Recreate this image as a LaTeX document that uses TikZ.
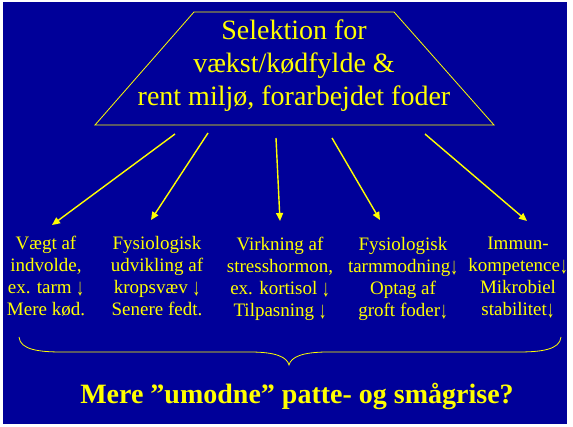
\documentclass[tikz,border=0pt]{standalone}
\usepackage{fontspec}
\setmainfont{Liberation Serif}
\usepackage{tikz}
\usetikzlibrary{arrows.meta}

\definecolor{slideblue}{RGB}{0,0,153}
\definecolor{slideyellow}{RGB}{255,255,0}

\newcommand{\dnarr}{\smash{\raisebox{-2pt}{\scalebox{0.8}[1.25]{↓}}}}

\tikzset{
  selbox/.style = {draw=slideyellow, line width=0.8pt},
  seltext/.style = {align=center, text=slideyellow, inner sep=0pt, font=\fontsize{28}{33}\selectfont},
  effect/.style = {align=center, text=slideyellow, inner sep=0pt, font=\fontsize{19}{22}\selectfont},
  spoke/.style = {draw=slideyellow, line width=1.4pt, -{Triangle[length=8pt,width=7pt]}},
  result/.style = {text=slideyellow, inner sep=0pt, font=\fontsize{28}{33}\selectfont\bfseries},
}

\begin{document}
\begin{tikzpicture}[x=1pt, y=-1pt]
    \useasboundingbox (0,0) rectangle (573,427);
    \fill[white] (0,0) rectangle (573,427);
    \fill[slideblue] (3,2) rectangle (567,424);

    % selection box
    \draw[selbox] (194,12) -- (394,12) -- (494,125) -- (95,125) -- cycle;
    \node[seltext] (seltitle) at (294,66) {Selektion for\\vækst/kødfylde \&\\rent miljø, forarbejdet foder};

    % effects
    \node[effect] (col1) at (46,276)  {Vægt af\\indvolde,\\ex. tarm \dnarr\\Mere kød.};
    \node[effect] (col2) at (157,276) {Fysiologisk\\udvikling af\\kropsvæv \dnarr\\Senere fedt.};
    \node[effect] (col3) at (280,279) {Virkning af\\stresshormon,\\ex. kortisol \dnarr\\Tilpasning \dnarr};
    \node[effect] (col4) at (403,278.5) {Fysiologisk\\tarmmodning\dnarr\\Optag af\\groft foder\dnarr};
    \node[effect] (col5) at (518,276) {Immun-\\kompetence\dnarr\\Mikrobiel\\stabilitet\dnarr};

    \foreach \i/\sx/\sy/\tx/\ty in {1/175/134/52/225, 2/208/133/151/220, 3/276/138/280/221,
                                    4/332/138/380/220, 5/425/134/527/221} {
      \coordinate (s\i) at (\sx,\sy);
      \coordinate (t\i) at (\tx,\ty);
    }
    \foreach \i in {1,...,5}
      \draw[spoke] (s\i) -- (t\i);

    % brace
    \draw[slideyellow, line width=0.8pt] (19,337) .. controls (20,350) and (40,352) .. (62,352) -- (250,352)
      .. controls (276,352) and (287,357) .. (289,365) .. controls (291,357) and (302,352) .. (328,352)
      -- (518,352) .. controls (540,352) and (560,350) .. (561,337);

    \node[result, anchor=base] (question) at (297,403) {Mere ”umodne” patte- og smågrise?};
\end{tikzpicture}
\end{document}
